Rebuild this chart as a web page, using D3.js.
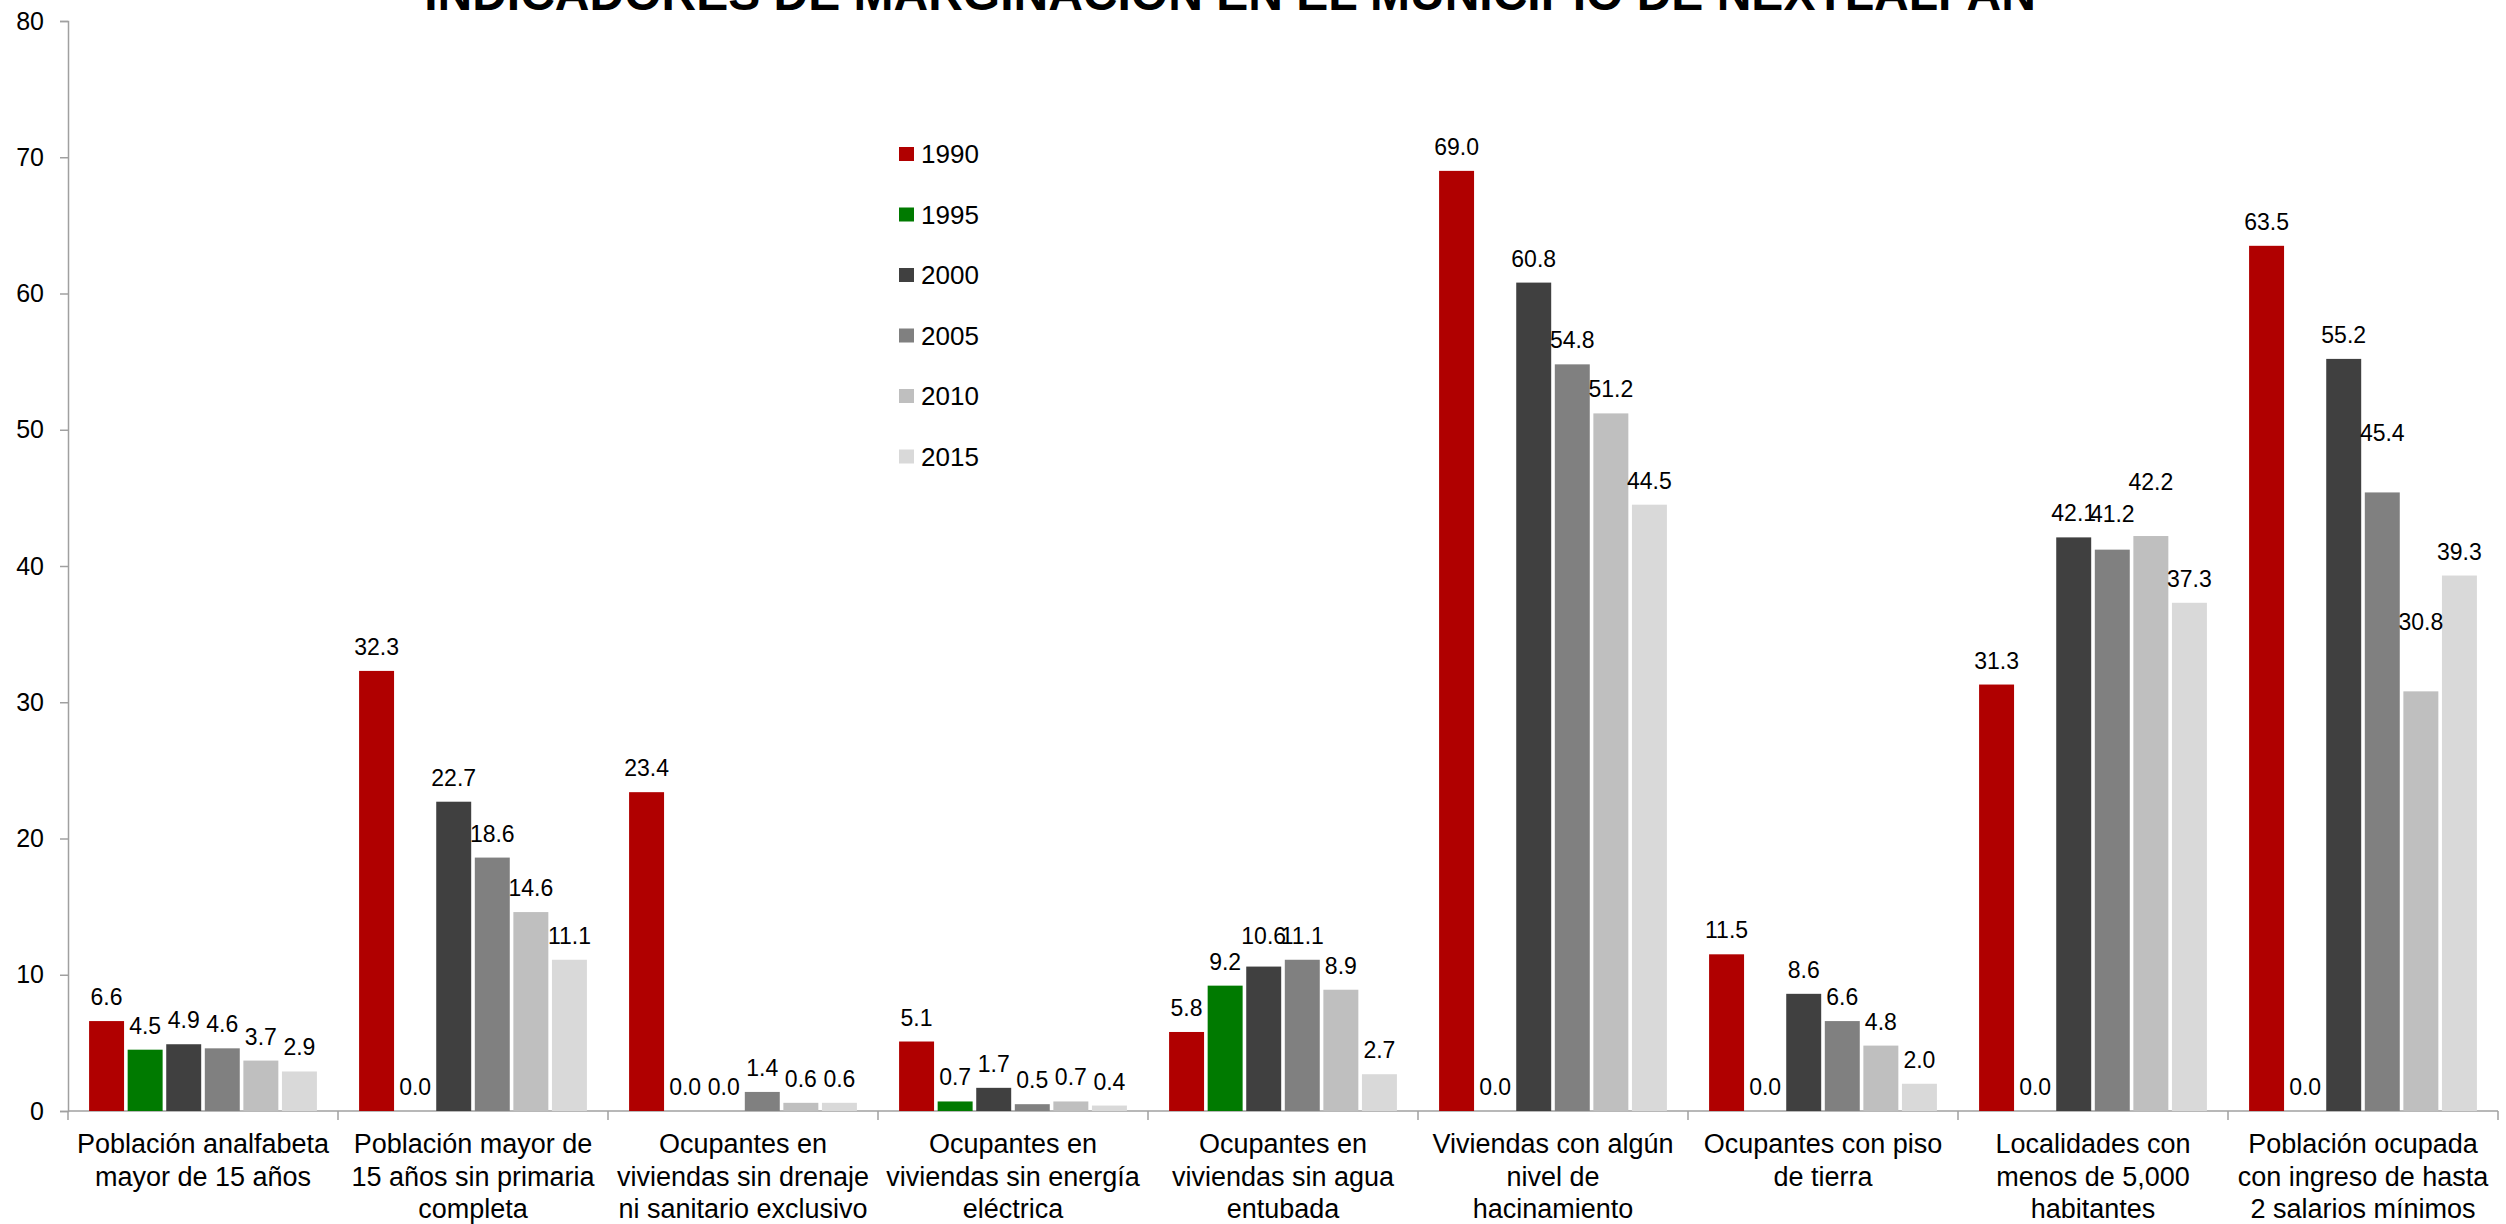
<!DOCTYPE html>
<html>
<head>
<meta charset="utf-8">
<script src="https://cdn.jsdelivr.net/npm/d3@7"></script>
<style>
  body { margin: 0; background: #fff; }
  text { font-family: "Liberation Sans", Arial, sans-serif; }
</style>
</head>
<body>
<div class="canvas"></div>
<script>
// categorías (con los saltos de línea del original)
const categories = [
  ["Población analfabeta", "mayor de 15 años"],
  ["Población mayor de", "15 años sin primaria", "completa"],
  ["Ocupantes en", "viviendas sin drenaje", "ni sanitario exclusivo"],
  ["Ocupantes en", "viviendas sin energía", "eléctrica"],
  ["Ocupantes en", "viviendas sin agua", "entubada"],
  ["Viviendas con algún", "nivel de", "hacinamiento"],
  ["Ocupantes con piso", "de tierra"],
  ["Localidades con", "menos de 5,000", "habitantes"],
  ["Población ocupada", "con ingreso de hasta", "2 salarios mínimos"]
];
const years = ["1990", "1995", "2000", "2005", "2010", "2015"];
const colors = ["#b00000", "#007a00", "#404040", "#808080", "#bfbfbf", "#d9d9d9"];

const s1990 = [6.6, 32.3, 23.4, 5.1, 5.8, 69.0, 11.5, 31.3, 63.5];
const s1995 = [4.5, 0.0, 0.0, 0.7, 9.2, 0.0, 0.0, 0.0, 0.0];
const s2000 = [4.9, 22.7, 0.0, 1.7, 10.6, 60.8, 8.6, 42.1, 55.2];
const s2005 = [4.6, 18.6, 1.4, 0.5, 11.1, 54.8, 6.6, 41.2, 45.4];
const s2010 = [3.7, 14.6, 0.6, 0.7, 8.9, 51.2, 4.8, 42.2, 30.8];
const s2015 = [2.9, 11.1, 0.6, 0.4, 2.7, 44.5, 2.0, 37.3, 39.3];
const series = [s1990, s1995, s2000, s2005, s2010, s2015];

const yTicks = [0, 10, 20, 30, 40, 50, 60, 70, 80];
const title = "INDICADORES DE MARGINACIÓN EN EL MUNICIPIO DE NEXTLALPAN";

// etiquetas movidas a mano en el original (categoría-serie -> px hacia arriba)
const labelNudge = { "4-2": 7, "7-3": 12, "7-4": 30, "8-3": 35, "8-4": 45 };

const W = 2506, H = 1224;
const svg = d3.select('.canvas')
  .append('svg')
  .attr('width', W)
  .attr('height', H);

svg.append("rect").attr("width", W).attr("height", H).attr("fill", "#fff");

const x0 = d3.scaleBand()
  .domain(d3.range(categories.length))
  .range([68, 2498])
  .padding(0);

const x1 = d3.scaleBand()
  .domain(years)
  .range([0, x0.bandwidth()])
  .paddingInner(0)
  .paddingOuter(0.5);

const y = d3.scaleLinear()
  .domain([0, 80])
  .range([1111, 21]);

// título (cortado arriba como en el original)
svg.append("text")
  .attr("x", 1230)
  .attr("y", 10)
  .attr("text-anchor", "middle")
  .style("font-size", "48px")
  .style("font-weight", "bold")
  .attr("fill", "#000")
  .text(title);

// eje y
const yAxis = svg.append("g")
  .attr("transform", "translate(68,0)")
  .call(d3.axisLeft(y).tickValues(yTicks).tickSize(8).tickPadding(16));
yAxis.select(".domain").attr("stroke", "#a0a0a0").attr("stroke-width", 1.5);
yAxis.selectAll(".tick line").attr("stroke", "#a0a0a0").attr("stroke-width", 1.5);
yAxis.selectAll(".tick text")
  .style("font-size", "25px")
  .style("font-family", "'Liberation Sans', Arial, sans-serif")
  .attr("fill", "#000");

// eje x
const xAxis = svg.append("g")
  .attr("transform", "translate(0,1111)");
xAxis.append("line")
  .attr("x1", 68).attr("x2", 2498)
  .attr("stroke", "#a0a0a0").attr("stroke-width", 1.5);
xAxis.selectAll("line.tk")
  .data(d3.range(categories.length + 1))
  .join("line")
  .attr("class", "tk")
  .attr("x1", d => d < categories.length ? x0(d) : x0(d - 1) + x0.bandwidth())
  .attr("x2", d => d < categories.length ? x0(d) : x0(d - 1) + x0.bandwidth())
  .attr("y1", 0).attr("y2", 9)
  .attr("stroke", "#a0a0a0").attr("stroke-width", 1.5);

const catLabels = svg.append("g").selectAll("text")
  .data(categories)
  .join("text")
  .attr("text-anchor", "middle")
  .style("font-size", "27px")
  .attr("fill", "#000");
catLabels.each(function(lines, i) {
  d3.select(this).selectAll("tspan")
    .data(lines)
    .join("tspan")
    .attr("x", x0(i) + x0.bandwidth() / 2)
    .attr("y", (d, k) => 1153 + k * 32.5)
    .text(d => d);
});

// barras
const groups = svg.append("g").selectAll("g")
  .data(categories.map((c, i) => i))
  .join("g")
  .attr("transform", i => `translate(${x0(i)},0)`);

const inset = 1.8;
groups.selectAll("rect")
  .data(i => years.map((yr, k) => ({ i, yr, k, v: series[k][i] })))
  .join("rect")
  .attr("x", d => x1(d.yr) + inset)
  .attr("width", x1.bandwidth() - inset * 2)
  .attr("y", d => y(d.v))
  .attr("height", d => y(0) - y(d.v))
  .attr("fill", d => colors[d.k]);

groups.selectAll("text")
  .data(i => years.map((yr, k) => ({ i, yr, k, v: series[k][i] })))
  .join("text")
  .attr("x", d => x1(d.yr) + x1.bandwidth() / 2)
  .attr("y", d => y(d.v) - 16 - (labelNudge[d.i + "-" + d.k] || 0))
  .attr("text-anchor", "middle")
  .style("font-size", "23px")
  .attr("fill", "#000")
  .text(d => d3.format(".1f")(d.v));

// leyenda
const legend = svg.append("g").selectAll("g")
  .data(years)
  .join("g")
  .attr("transform", (d, k) => `translate(899,${147 + k * 60.5})`);
legend.append("rect")
  .attr("width", 15).attr("height", 14)
  .attr("fill", (d, k) => colors[k]);
legend.append("text")
  .attr("x", 22)
  .attr("y", 7)
  .attr("dy", "0.36em")
  .style("font-size", "26px")
  .attr("fill", "#000")
  .text(d => d);
</script>
</body>
</html>
